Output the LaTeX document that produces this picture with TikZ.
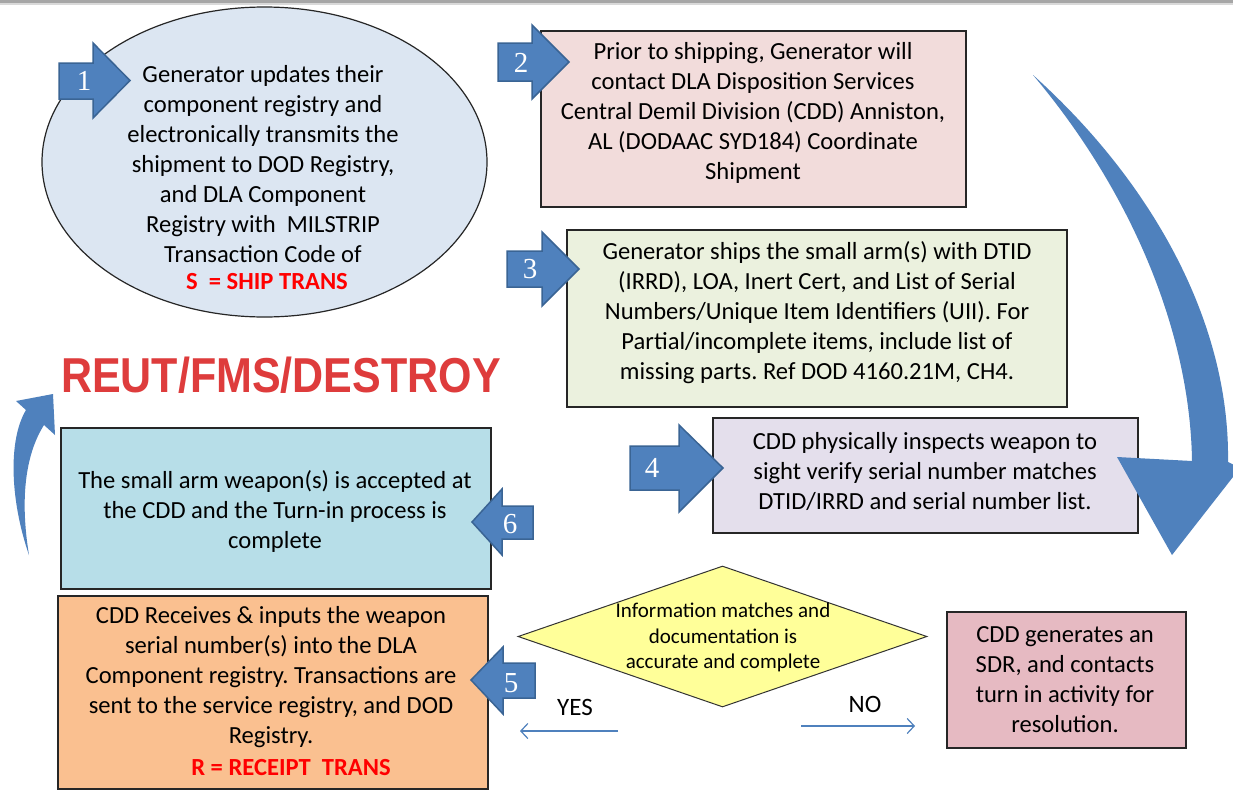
\documentclass[tikz,border=0pt]{standalone}
\usepackage{fontspec}
\setmainfont{Carlito}
\newfontfamily\numfont{Liberation Serif}
\newfontfamily\bigfont{Liberation Sans}
\usetikzlibrary{shapes.geometric,arrows.meta}
\frenchspacing
\definecolor{arrowblue}{HTML}{4F81BD}
\definecolor{arrowdark}{HTML}{3A6494}
\definecolor{ellfill}{HTML}{DCE6F2}
\definecolor{pinkfill}{HTML}{F2DCDB}
\definecolor{greenfill}{HTML}{EBF1DE}
\definecolor{lilacfill}{HTML}{E4DFEC}
\definecolor{cyanfill}{HTML}{B7DEE8}
\definecolor{orangefill}{HTML}{FAC090}
\definecolor{rosefill}{HTML}{E6BAC2}
\definecolor{yellowfill}{HTML}{FFFF99}
\definecolor{titlered}{HTML}{DE3C3C}
\definecolor{pured}{HTML}{FF0000}
\tikzset{
  boxst/.style={draw=black!85, line width=1.2pt, inner sep=0pt},
  bodytext/.style={align=center, inner sep=0pt, font=\fontsize{24.6}{30}\selectfont},
  smalltext/.style={align=center, inner sep=0pt, font=\fontsize{21}{25.5}\selectfont},
  redtext/.style={text=pured, inner sep=0pt, font=\bfseries\fontsize{24.6}{30}\selectfont},
  numarrow/.style={fill=arrowblue, draw=arrowdark, line width=1.5pt, line join=miter},
  numtext/.style={text=white, inner sep=0pt, font=\numfont\fontsize{29}{30}\selectfont},
  bigcurve/.style={fill=arrowblue},
  thinarrow/.style={draw=arrowblue, line width=1.2pt, -{Straight Barb[length=7pt,width=15pt]}},
  labeltext/.style={inner sep=0pt, font=\fontsize{25}{28}\selectfont},
}
\begin{document}
\begin{tikzpicture}[x=1pt,y=-1pt]
\useasboundingbox (0,0) rectangle (1233,790);
\fill[white] (0,0) rectangle (1233,790);
% top gray rule
\fill[black!35] (0,0) rectangle (1233,2.5);
\fill[black!15] (0,2.5) rectangle (1233,5);

% boxes
\node[boxst, ellipse, fill=ellfill, minimum width=445, minimum height=310] (e1) at (264.5,162) {};
\node[boxst, rectangle, fill=pinkfill, minimum width=425, minimum height=176] (b2) at (753.5,119) {};
\node[boxst, rectangle, fill=greenfill, minimum width=500, minimum height=177] (b3) at (817,318.5) {};
\node[boxst, rectangle, fill=lilacfill, minimum width=425, minimum height=115] (b4) at (925.5,475.5) {};
\node[boxst, rectangle, fill=cyanfill, minimum width=430, minimum height=161] (b6) at (276,508.5) {};
\node[boxst, rectangle, fill=orangefill, minimum width=430, minimum height=193] (b5) at (273,692.5) {};
\node[boxst, rectangle, fill=rosefill, minimum width=239, minimum height=136] (sdr) at (1066.5,680) {};
\node[draw=black!80, line width=1pt, diamond, fill=yellowfill, aspect=2.9, minimum width=409, minimum height=141, inner sep=0pt] (dm) at (722.5,636.5) {};

% texts
\node[bodytext] (t1) at (263,164.5) {Generator updates their\\component registry and\\electronically transmits the\\shipment to DOD Registry,\\and DLA Component\\Registry with\ \ MILSTRIP\\Transaction Code of};
\node[redtext] (r1) at (267,282) {S\ \ = SHIP TRANS};
\node[bodytext] (t2) at (753,113) {Prior to shipping, Generator will\\contact DLA Disposition Services\\Central Demil Division (CDD) Anniston,\\AL (DODAAC SYD184) Coordinate\\Shipment};
\node[bodytext] (t3) at (817,313) {Generator ships the small arm(s) with DTID\\(IRRD), LOA, Inert Cert, and List of Serial\\Numbers/Unique Item Identifiers (UII). For\\Partial/incomplete items, include list of\\missing parts. Ref DOD 4160.21M, CH4.};
\node[bodytext] (t4) at (925,471.5) {CDD physically inspects weapon to\\sight verify serial number matches\\DTID/IRRD and serial number list.};
\node[bodytext] (t6) at (275,511) {The small arm weapon(s) is accepted at\\the CDD and the Turn-in process is\\complete};
\node[bodytext] (t5) at (271,677) {CDD Receives \& inputs the weapon\\serial number(s) into the DLA\\Component registry. Transactions are\\sent to the service registry, and DOD\\Registry.};
\node[redtext] (r5) at (291,768) {R = RECEIPT\ \ TRANS};
\node[bodytext] (tsdr) at (1065,680) {CDD generates an\\SDR, and contacts\\turn in activity for\\resolution.};
\node[smalltext] (tdm) at (723,637.5) {Information matches and\\documentation is\\accurate and complete};

% YES / NO
\node[labeltext] (yes) at (575,707) {YES};
\node[labeltext] (no) at (865,704) {NO};
\coordinate (yesS) at (618,731);
\coordinate (yesE) at (520,731);
\coordinate (noS) at (801,726);
\coordinate (noE) at (915,726);
\draw[thinarrow] (yesS) -- (yesE);
\draw[thinarrow] (noS) -- (noE);

% title
\node[inner sep=0pt, yscale=1.14, text=titlered, font=\bigfont\bfseries\fontsize{43}{46}\selectfont] (title) at (281,375) {REUT/FMS/DESTROY};

% numbered block arrows
\draw[numarrow] (59,63) -- (93,63) -- (93,43) -- (130,80.5) -- (93,118) -- (93,99) -- (59,99) -- cycle;
\node[numtext] (n1) at (84,81) {1};
\draw[numarrow] (498,43) -- (532,43) -- (532,25) -- (569,62) -- (532,99) -- (532,81) -- (498,81) -- cycle;
\node[numtext] (n2) at (521,63) {2};
\draw[numarrow] (507,251) -- (542,251) -- (542,232) -- (579,269) -- (542,306) -- (542,287) -- (507,287) -- cycle;
\node[numtext] (n3) at (530,269) {3};
\draw[numarrow] (630,446) -- (679,446) -- (679,425) -- (723,468) -- (679,512) -- (679,490) -- (630,490) -- cycle;
\node[numtext] (n4) at (652,468) {4};
\draw[numarrow] (471,680) -- (503,647) -- (503,663) -- (535,663) -- (535,698) -- (503,698) -- (503,714) -- cycle;
\node[numtext] (n5) at (511,683) {5};
\draw[numarrow] (472,522) -- (502,489) -- (502,506) -- (533,506) -- (533,539) -- (502,539) -- (502,555) -- cycle;
\node[numtext] (n6) at (510,524) {6};

% big curved arrow (right)
\fill[bigcurve] (1033,75) .. controls (1150,180) and (1230,320) .. (1228,462)
  -- (1240,468) -- (1172,555) -- (1117,457) -- (1192,461)
  .. controls (1190,330) and (1130,190) .. (1033,75) -- cycle;
% small curved arrow (left)
\fill[bigcurve] (29,555) .. controls (10,500) and (8,440) .. (26,410)
  -- (16,401) -- (53,394) -- (55,435) -- (44,425)
  .. controls (25,455) and (20,500) .. (29,555) -- cycle;
\end{tikzpicture}
\end{document}
